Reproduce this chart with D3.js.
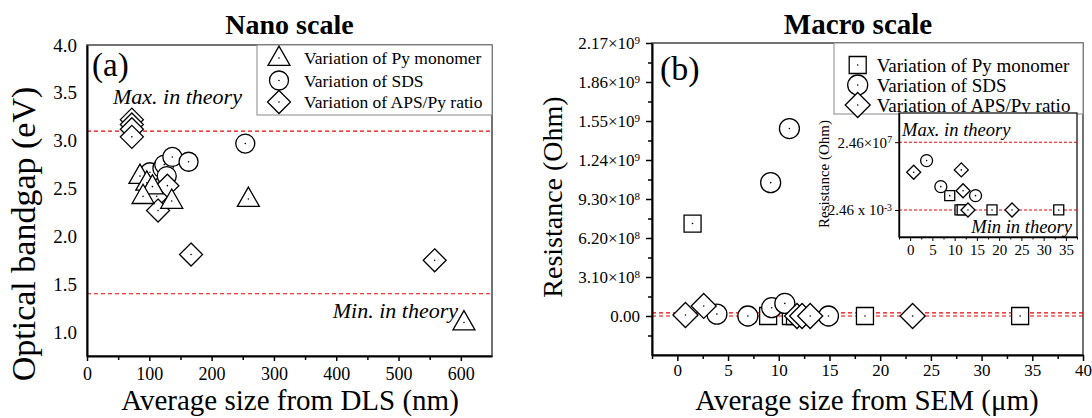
<!DOCTYPE html>
<html>
<head>
<meta charset="utf-8">
<script src="https://cdn.jsdelivr.net/npm/d3@7"></script>
<style>
body { margin: 0; background: #fff; }
text { font-family: "Liberation Serif", "Times New Roman", serif; fill: #000; }
</style>
</head>
<body>
<svg id="chart" width="1092" height="418"></svg>
<script>
// ---- data ----
// (a) nano scale: DLS size (nm) vs optical bandgap (eV)
const nanoPySize  = [85, 96, 105, 90, 136, 259, 605];
const nanoPyGap   = [2.63, 2.56, 2.52, 2.42, 2.37, 2.39, 1.10];
const nanoSdsSize = [101, 121, 124, 128, 137, 163, 254];
const nanoSdsGap  = [2.67, 2.71, 2.75, 2.63, 2.83, 2.78, 2.97];
const nanoApsSize = [72, 72, 72, 72, 112, 114, 129, 167, 558];
const nanoApsGap  = [3.22, 3.17, 3.12, 3.04, 2.42, 2.27, 2.53, 1.81, 1.75];
const gapLimits = [3.1, 1.4]; // max / min in theory

// (b) macro scale: SEM size (um) vs resistance (Ohm)
const macroPySize  = [1.5, 8.95, 11.2, 11.6, 18.5, 33.8];
const macroPyRes   = [7.35e8, 0.32, 2.46e-3, 2.46e-3, 2.46e-3, 2.46e-3];
const macroSdsSize = [3.9, 6.95, 9.2, 9.3, 10.6, 11.05, 14.9];
const macroSdsRes  = [1.5e7, 6.8, 1.06e9, 6.6e7, 1.0e8, 1.49e9, 0.32];
const macroApsSize = [0.8, 2.6, 11.8, 12.3, 13.1, 23.2];
const macroApsRes  = [8e6, 8.0e7, 2.0e3, 1.7, 2.46e-3, 2.46e-3];
const resTicks = [0, 3.1e8, 6.2e8, 9.3e8, 1.24e9, 1.55e9, 1.86e9, 2.17e9];
const resLimits = [2.46e7, 2.46e-3];

// inset (log resistance)
const insetPySize  = [8.9, 11.2, 11.7, 18.4, 33.4];
const insetPyRes   = [0.32, 2.46e-3, 2.46e-3, 2.46e-3, 2.46e-3];
const insetSdsSize = [3.7, 6.9, 14.7];
const insetSdsRes  = [4.7e4, 6.8, 0.32];
const insetApsSize = [0.8, 11.5, 11.9, 13.0, 22.9];
const insetApsRes  = [9.1e2, 2.0e3, 1.7, 2.46e-3, 2.46e-3];

const seriesNames = ["Variation of Py monomer", "Variation of SDS", "Variation of APS/Py ratio"];

const svg = d3.select("#chart");
svg.append("rect").attr("width", 1092).attr("height", 418).attr("fill", "#fff");

// marker outlines, centred on the data point
function shape(kind, s) {
  if (kind == "square") return `M${-s},${-s}H${s}V${s}H${-s}Z`;
  if (kind == "circle") return `M${s},0A${s},${s} 0 1,1 ${-s},0A${s},${s} 0 1,1 ${s},0Z`;
  if (kind == "triangle") { const h = s * 1.75; return `M0,${-0.62*h}L${s},${0.38*h}L${-s},${0.38*h}Z`; }
  return `M0,${-s}L${s},0L0,${s}L${-s},0Z`;
}

function drawMarkers(g, xs, ys, x, y, kind, s) {
  const pts = xs.map((v, i) => [v, ys[i]]);
  const m = g.selectAll(null).data(pts).enter().append("g")
    .attr("transform", d => `translate(${x(d[0])},${y(d[1])})`);
  m.append("path").attr("d", shape(kind, s))
    .attr("fill", "#fff").attr("stroke", "#000").attr("stroke-width", 1.3);
  m.append("circle").attr("r", 0.8).attr("fill", "#000");
}

function sciText(sel, mant, exp, sep) {
  sel.text(null);
  sel.append("tspan").text(mant + sep + "10");
  sel.append("tspan").attr("dy", "-0.45em").attr("font-size", "0.65em").text(exp);
}

// ================= (a) Nano scale =================
const xa = d3.scaleLinear().domain([0, 650]).range([87, 492]);
const ya = d3.scaleLinear().domain([0.75, 4.0]).range([356, 45]);
const ga = svg.append("g");

ga.append("rect").attr("x", 87).attr("y", 45).attr("width", 405).attr("height", 311)
  .attr("fill", "none").attr("stroke", "#444").attr("stroke-width", 1.5);

ga.selectAll(null).data(gapLimits).enter().append("line")
  .attr("x1", xa(0)).attr("x2", xa(650)).attr("y1", d => ya(d)).attr("y2", d => ya(d))
  .attr("stroke", "#e00").attr("stroke-width", 1.1).attr("stroke-dasharray", "4,3");

// minor ticks
ga.append("g").attr("transform", "translate(0,356)")
  .call(d3.axisBottom(xa).tickValues(d3.range(50, 650, 100)).tickSize(4).tickFormat(""))
  .call(g => g.select(".domain").remove())
  .call(g => g.selectAll("line").attr("stroke-width", 1.5));
ga.append("g").attr("transform", "translate(0,356)")
  .call(d3.axisBottom(xa).tickValues(d3.range(0, 601, 100)).tickSize(5).tickSizeOuter(0).tickPadding(6))
  .call(g => g.select(".domain").attr("stroke-width", 2.2))
  .call(g => g.selectAll("line").attr("stroke-width", 1.5))
  .call(g => g.selectAll("text").attr("font-size", 18).attr("font-family", "Liberation Serif"));

ga.append("g").attr("transform", "translate(87,0)")
  .call(d3.axisLeft(ya).tickValues(d3.range(1, 4.01, 0.5)).tickSize(0).tickSizeOuter(0).tickPadding(10)
    .tickFormat(d3.format(".1f")))
  .call(g => g.select(".domain").attr("stroke-width", 2))
  .call(g => g.selectAll("text").attr("font-size", 19).attr("font-family", "Liberation Serif"));

drawMarkers(ga, nanoSdsSize, nanoSdsGap, xa, ya, "circle", 9.5);
drawMarkers(ga, nanoApsSize, nanoApsGap, xa, ya, "diamond", 11.5);
drawMarkers(ga, nanoPySize, nanoPyGap, xa, ya, "triangle", 11);

ga.append("text").attr("x", 92).attr("y", 76).attr("font-size", 33).text("(a)");
ga.append("text").attr("x", 113).attr("y", 104).attr("font-size", 22).attr("font-style", "italic").text("Max. in theory");
ga.append("text").attr("x", 458).attr("y", 318).attr("text-anchor", "end").attr("font-size", 22).attr("font-style", "italic").text("Min. in theory");

// legend (a)
const la = ga.append("g");
la.append("rect").attr("x", 257).attr("y", 45).attr("width", 235).attr("height", 70)
  .attr("fill", "#fff").attr("stroke", "#888").attr("stroke-width", 1);
const legKindsA = ["triangle", "circle", "diamond"];
const legSizeA = [11, 9.5, 11.5];
[58, 80.5, 102].forEach((cy, i) => {
  drawMarkers(la, [0], [0], () => 279, () => cy, legKindsA[i], legSizeA[i]);
  la.append("text").attr("x", 304).attr("y", cy + 6).attr("font-size", 17.5).text(seriesNames[i]);
});

ga.append("text").attr("x", 289.5).attr("y", 34).attr("text-anchor", "middle")
  .attr("font-size", 28).attr("font-weight", "bold").text("Nano scale");
ga.append("text").attr("x", 290).attr("y", 410).attr("text-anchor", "middle")
  .attr("font-size", 29).text("Average size from DLS (nm)");
ga.append("text").attr("transform", "translate(35,234) rotate(-90)").attr("text-anchor", "middle")
  .attr("font-size", 34).text("Optical bandgap (eV)");

// ================= (b) Macro scale =================
const xb = d3.scaleLinear().domain([-2.5, 40]).range([652, 1083]);
const yb = d3.scaleLinear().domain([-3.1e8, 2.17e9]).range([355, 43]);
const gb = svg.append("g");

gb.append("rect").attr("x", 652).attr("y", 43).attr("width", 431).attr("height", 312)
  .attr("fill", "none").attr("stroke", "#444").attr("stroke-width", 1.5);

gb.selectAll(null).data(resLimits).enter().append("line")
  .attr("x1", xb(-2.5)).attr("x2", xb(40)).attr("y1", d => yb(d)).attr("y2", d => yb(d))
  .attr("stroke", "#e00").attr("stroke-width", 1.1).attr("stroke-dasharray", "4,3");

gb.append("g").attr("transform", "translate(0,355)")
  .call(d3.axisBottom(xb).tickValues(d3.range(-2.5, 40, 5)).tickSize(4).tickFormat(""))
  .call(g => g.select(".domain").remove())
  .call(g => g.selectAll("line").attr("stroke-width", 1.5));
gb.append("g").attr("transform", "translate(0,355)")
  .call(d3.axisBottom(xb).tickValues(d3.range(0, 41, 5)).tickSize(6).tickSizeOuter(0).tickPadding(3))
  .call(g => g.select(".domain").attr("stroke-width", 2.2))
  .call(g => g.selectAll("line").attr("stroke-width", 1.5))
  .call(g => g.selectAll("text").attr("font-size", 17).attr("font-family", "Liberation Serif"));

const minorRes = d3.range(-1.55e8, 2.17e9, 3.1e8);
gb.append("g").attr("transform", "translate(652,0)")
  .call(d3.axisLeft(yb).tickValues(minorRes).tickSize(4).tickFormat(""))
  .call(g => g.select(".domain").remove())
  .call(g => g.selectAll("line").attr("stroke-width", 1.5));
gb.append("g").attr("transform", "translate(652,0)")
  .call(d3.axisLeft(yb).tickValues(resTicks).tickSize(6).tickSizeOuter(0).tickPadding(6))
  .call(g => g.select(".domain").attr("stroke-width", 2))
  .call(g => g.selectAll("line").attr("stroke-width", 1.5))
  .call(g => g.selectAll("text").attr("font-size", 17).attr("font-family", "Liberation Serif")
    .each(function(d) {
      if (d == 0) { d3.select(this).text("0.00"); return; }
      const e = Math.floor(Math.log10(d));
      sciText(d3.select(this), (d / Math.pow(10, e)).toFixed(2), e, "×");
    }));

drawMarkers(gb, macroPySize, macroPyRes, xb, yb, "square", 8.5);
drawMarkers(gb, macroSdsSize, macroSdsRes, xb, yb, "circle", 10);
drawMarkers(gb, macroApsSize, macroApsRes, xb, yb, "diamond", 12.5);

gb.append("text").attr("x", 660).attr("y", 80).attr("font-size", 34).text("(b)");

// legend (b)
const lb = gb.append("g");
lb.append("rect").attr("x", 834).attr("y", 43).attr("width", 249).attr("height", 71)
  .attr("fill", "#fff").attr("stroke", "#888").attr("stroke-width", 1);
const legKindsB = ["square", "circle", "diamond"];
const legSizeB = [8.5, 10, 12.5];
[65, 85, 105].forEach((cy, i) => {
  drawMarkers(lb, [0], [0], () => 857.7, () => cy, legKindsB[i], legSizeB[i]);
  lb.append("text").attr("x", 876.7).attr("y", cy + 6.5).attr("font-size", 19).text(seriesNames[i]);
});

gb.append("text").attr("x", 858).attr("y", 34).attr("text-anchor", "middle")
  .attr("font-size", 29).attr("font-weight", "bold").text("Macro scale");
gb.append("text").attr("x", 867).attr("y", 410).attr("text-anchor", "middle")
  .attr("font-size", 29).text("Average size from SEM (μm)");
gb.append("text").attr("transform", "translate(562,197) rotate(-90)").attr("text-anchor", "middle")
  .attr("font-size", 28).text("Resistance (Ohm)");

// ---- inset ----
const xi = d3.scaleLinear().domain([-2.5, 37.5]).range([899, 1077]);
const yi = d3.scaleLog().domain([Math.pow(10, -6.6), Math.pow(10, 11.7)]).range([237, 113]);
const gi = gb.append("g");
gi.append("rect").attr("x", 899).attr("y", 113).attr("width", 178).attr("height", 124)
  .attr("fill", "#fff").attr("stroke", "#000").attr("stroke-width", 1.2);

gi.selectAll(null).data(resLimits).enter().append("line")
  .attr("x1", xi(-2.5)).attr("x2", xi(37.5)).attr("y1", d => yi(d)).attr("y2", d => yi(d))
  .attr("stroke", "#e00").attr("stroke-width", 1.1).attr("stroke-dasharray", "3,2");

gi.append("g").attr("transform", "translate(0,237)")
  .call(d3.axisBottom(xi).tickValues(d3.range(-2.5, 37.6, 5)).tickSize(2.5).tickFormat(""))
  .call(g => g.select(".domain").remove());
gi.append("g").attr("transform", "translate(0,237)")
  .call(d3.axisBottom(xi).tickValues(d3.range(0, 36, 5)).tickSize(4).tickSizeOuter(0).tickPadding(3))
  .call(g => g.select(".domain").attr("stroke-width", 1.4))
  .call(g => g.selectAll("text").attr("font-size", 15).attr("font-family", "Liberation Serif"));

gi.append("g").attr("transform", "translate(899,0)")
  .call(d3.axisLeft(yi).tickValues(resLimits).tickSize(4).tickSizeOuter(0).tickPadding(3))
  .call(g => g.select(".domain").attr("stroke-width", 1.4))
  .call(g => g.selectAll("text").attr("font-size", 15).attr("font-family", "Liberation Serif")
    .each(function(d) {
      const e = Math.floor(Math.log10(d));
      if (d > 1) sciText(d3.select(this), "2.46", e, "×");
      else sciText(d3.select(this), "2.46", e, " x ");
    }));

drawMarkers(gi, insetPySize, insetPyRes, xi, yi, "square", 5);
drawMarkers(gi, insetSdsSize, insetSdsRes, xi, yi, "circle", 6);
drawMarkers(gi, insetApsSize, insetApsRes, xi, yi, "diamond", 7);

gi.append("text").attr("x", 902).attr("y", 136).attr("font-size", 18.5).attr("font-style", "italic").text("Max. in theory");
gi.append("text").attr("x", 1072).attr("y", 233).attr("text-anchor", "end").attr("font-size", 18.5).attr("font-style", "italic").text("Min in theory");
gi.append("text").attr("transform", "translate(829,174) rotate(-90)").attr("text-anchor", "middle")
  .attr("font-size", 15).text("Resistance (Ohm)");
</script>
</body>
</html>
